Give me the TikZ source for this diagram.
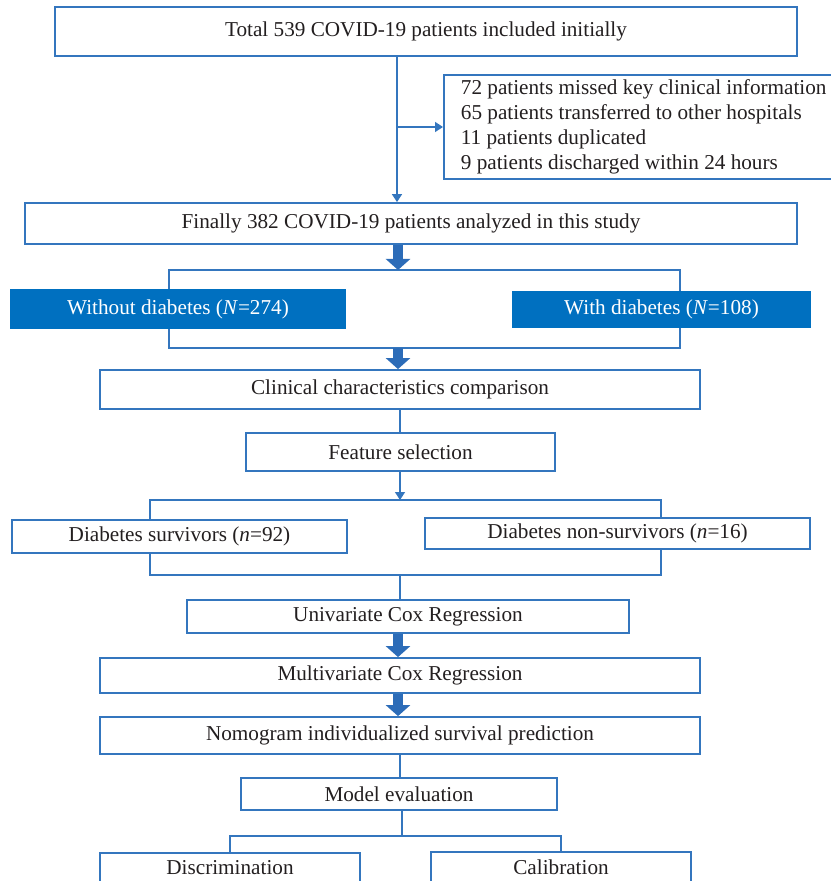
\documentclass[tikz,border=0pt]{standalone}
\usepackage{fontspec}
\setmainfont{Liberation Serif}
\usepackage{tikz}
\usetikzlibrary{arrows.meta}
\definecolor{edgeblue}{RGB}{52,118,190}
\definecolor{fillblue}{RGB}{0,112,192}
\definecolor{arrowblue}{RGB}{44,108,184}
\definecolor{textgray}{RGB}{35,31,32}
\tikzstyle{stage} = [
    rectangle,
    draw=edgeblue,
    line width=0.9pt,
    fill=white,
    inner sep=0pt,
    text centered,
    text=textgray,
    font=\fontsize{10.6}{12.5}\selectfont
]
\tikzstyle{group} = [
    stage,
    draw=none,
    fill=fillblue,
    text=white
]
\tikzstyle{exclude} = [
    stage,
    anchor=west,
    align=left,
    text width=190pt,
    inner xsep=8.5pt
]
\tikzstyle{link} = [draw=edgeblue, line width=0.7pt]
\tikzstyle{arrow} = [link, -{Triangle[width=5pt,length=4pt]}]
\tikzstyle{fatarrow} = [draw=arrowblue, line width=5pt, -{Triangle[width=12pt,length=5.5pt]}]

\begin{document}
\begin{tikzpicture}[x=0.5pt, y=-0.5pt]
\useasboundingbox (0,0) rectangle (830,881);

% brackets around the two splits
\coordinate (splitA) at (169,270);
\coordinate (splitAend) at (680,348);
\coordinate (splitB) at (150,500);
\coordinate (splitBend) at (661,575);
\draw[link] (splitA) rectangle (splitAend);
\draw[link] (splitB) rectangle (splitBend);

\node (total) [stage, minimum width=371pt, minimum height=24.5pt] at (426,31.5) {Total 539 COVID-19 patients included initially};
\node (excl) [exclude, minimum height=52pt] at (443,127) {\spaceskip=0pt \xspaceskip=0pt
  \begin{tabular}{@{}l@{}}72 patients missed key clinical information\\65 patients transferred to other hospitals\\11 patients duplicated\\9 patients discharged within 24 hours\end{tabular}};
\node (final) [stage, minimum width=386pt, minimum height=20.5pt] at (411,223.5) {Finally 382 COVID-19 patients analyzed in this study};

\node (nodiab) [group, minimum width=168pt, minimum height=20pt] at (178,309) {Without diabetes (\textit{N}=274)};
\node (diab) [group, minimum width=149.5pt, minimum height=18.5pt] at (661.5,309.5) {With diabetes (\textit{N}=108)};

\node (clinical) [stage, minimum width=300pt, minimum height=19.5pt] at (400,389.5) {Clinical characteristics comparison};
\node (feature) [stage, minimum width=154.5pt, minimum height=19pt] at (400.5,452) {Feature selection};

\node (surv) [stage, minimum width=167.5pt, minimum height=16.5pt] at (179.5,536.5) {Diabetes survivors (\textit{n}=92)};
\node (nonsurv) [stage, minimum width=192.5pt, minimum height=15.5pt] at (617.5,533.5) {Diabetes non-survivors (\textit{n}=16)};

\node (univ) [stage, minimum width=221pt, minimum height=16.5pt] at (408,616.5) {Univariate Cox Regression};
\node (multi) [stage, minimum width=300pt, minimum height=17.5pt] at (400,675.5) {Multivariate Cox Regression};
\node (nomo) [stage, minimum width=300pt, minimum height=18.5pt] at (400,735.5) {Nomogram individualized survival prediction};
\node (model) [stage, minimum width=158pt, minimum height=16pt] at (399,794) {Model evaluation};

\node (disc) [stage, minimum width=130pt, minimum height=15pt] at (230,868) {Discrimination};
\node (calib) [stage, minimum width=130pt, minimum height=15pt] at (561,867) {Calibration};

% connectors
\coordinate (stem) at (397,127);
\coordinate (fat) at (398,0);
\coordinate (thin) at (400,0);
\coordinate (evalsplit) at (402,836);

\draw[arrow] (total.south -| stem) -- (final.north -| stem);
\draw[arrow] (stem) -- (excl.west);
\draw[fatarrow] (final.south -| fat) -- (splitA -| fat);
\draw[fatarrow] (splitAend -| fat) -- (clinical.north -| fat);
\draw[link] (clinical.south -| thin) -- (feature.north -| thin);
\draw[arrow] (feature.south -| thin) -- (splitB -| thin);
\draw[link] (splitBend -| thin) -- (univ.north -| thin);
\draw[fatarrow] (univ.south -| fat) -- (multi.north -| fat);
\draw[fatarrow] (multi.south -| fat) -- (nomo.north -| fat);
\draw[link] (nomo.south -| thin) -- (model.north -| thin);
\draw[link] (model.south -| evalsplit) -- (evalsplit);
\draw[link] (disc.north) -- (disc.north |- evalsplit) -| (calib.north);

\end{tikzpicture}
\end{document}
